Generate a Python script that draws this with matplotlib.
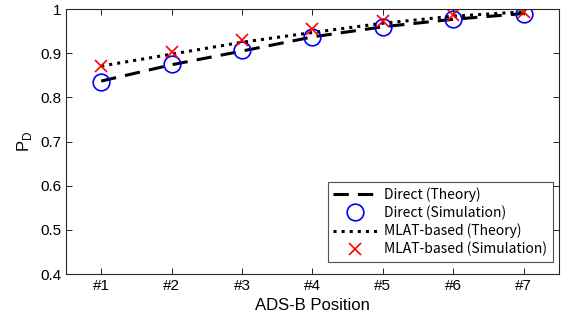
import matplotlib
matplotlib.use('Agg')
import matplotlib.pyplot as plt

positions = [1, 2, 3, 4, 5, 6, 7]
tick_labels = ['#1', '#2', '#3', '#4', '#5', '#6', '#7']
direct_theory = [0.837, 0.874, 0.905, 0.937, 0.960, 0.977, 0.990]
direct_sim = [0.836, 0.875, 0.907, 0.9375, 0.960, 0.977, 0.990]
mlat_theory = [0.871, 0.898, 0.925, 0.947, 0.968, 0.984, 0.994]
mlat_sim = [0.871, 0.904, 0.930, 0.955, 0.974, 0.986, 0.9925]

plt.rcParams['font.family'] = ['Liberation Sans', 'DejaVu Sans']

fig = plt.figure(figsize=(5.64, 3.26), dpi=100)
ax = fig.add_axes([0.117, 0.1595, 0.874, 0.8125])

ax.plot(positions, direct_theory, 'k--', lw=2.2, dashes=(5, 3), label='Direct (Theory)')
ax.plot(positions, direct_sim, 'o', ms=12, mfc='none', mec='blue', mew=1.2,
        ls='none', label='Direct (Simulation)')
ax.plot(positions, mlat_theory, 'k:', lw=2.2, label='MLAT-based (Theory)')
ax.plot(positions, mlat_sim, 'x', ms=9, color='red', mew=1.2, ls='none',
        label='MLAT-based (Simulation)')

ax.set_xlim(0.5, 7.5)
ax.set_ylim(0.4, 1.0)
ax.set_xticks(positions)
ax.set_xticklabels(tick_labels)
ax.set_yticks([0.4, 0.5, 0.6, 0.7, 0.8, 0.9, 1.0])
ax.set_yticklabels(['0.4', '0.5', '0.6', '0.7', '0.8', '0.9', '1'])
ax.tick_params(direction='in', top=True, right=True, labelsize=11, length=4, width=0.6)
for s in ax.spines.values():
    s.set_linewidth(0.8)
    s.set_color('#262626')

ax.set_xlabel('ADS-B Position', fontsize=12)
ax.set_ylabel('P$_\\mathregular{D}$', fontsize=12)

leg = ax.legend(loc='lower right', bbox_to_anchor=(0.988, 0.045), borderaxespad=0,
                frameon=True, fancybox=False, edgecolor='#262626',
                handlelength=3.2, labelspacing=0.25, handletextpad=0.5,
                prop={'family': ['Noto Sans CJK JP', 'DejaVu Sans'], 'size': 10})
leg.get_frame().set_linewidth(0.8)

fig.savefig('out.png', dpi=100)
